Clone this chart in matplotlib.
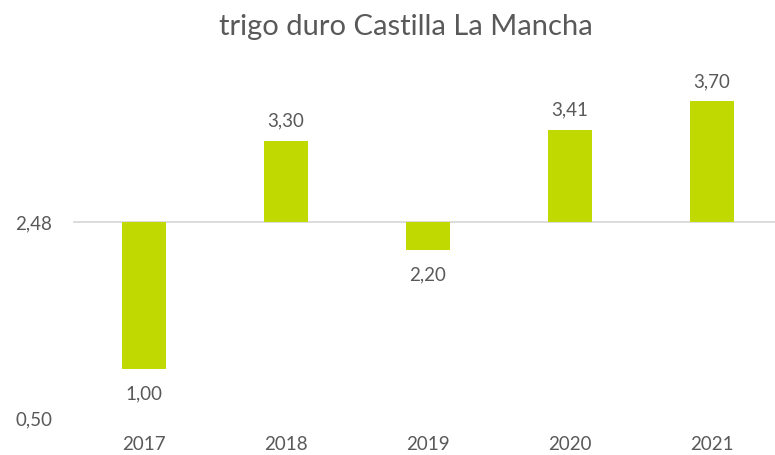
import matplotlib
matplotlib.use("Agg")
import matplotlib.pyplot as plt

categories = ["2017", "2018", "2019", "2020", "2021"]
values = [1.00, 3.30, 2.20, 3.41, 3.70]
baseline = 2.48
ytick_vals = [0.50, 2.48]
ytick_labels = ["0,50", "2,48"]
title = "trigo duro Castilla La Mancha"

plt.rcParams['font.family'] = ['Lato', 'DejaVu Sans']
txt = "#595959"
bar_color = "#C0D900"

fig = plt.figure(figsize=(7.75, 4.55), dpi=100)
ax = fig.add_axes([73/775, 1-418/455, (783-73)/775, (418-26)/455])
x = range(len(categories))
heights = [v - baseline for v in values]
ax.bar(x, heights, bottom=baseline, width=0.31, color=bar_color, zorder=2)
ax.set_xlim(-0.5, len(categories) - 0.5)
ax.set_ylim(0.50, 4.46)
ax.axhline(baseline, color="#D9D9D9", lw=1.3, zorder=1)
for s in ax.spines.values():
    s.set_visible(False)
ax.set_yticks(ytick_vals)
ax.set_yticklabels(ytick_labels)
ax.set_xticks(list(x))
ax.set_xticklabels(categories)
ax.tick_params(axis='both', length=0, labelsize=13.5, colors=txt)
ax.tick_params(axis='y', pad=15)
ax.tick_params(axis='x', pad=13)
for i, v in enumerate(values):
    lab = f"{v:.2f}".replace(".", ",")
    if v >= baseline:
        ax.annotate(lab, (i, v), xytext=(0, 8), textcoords="offset points",
                    ha="center", va="bottom", fontsize=13.5, color=txt)
    else:
        ax.annotate(lab, (i, v), xytext=(0, -12), textcoords="offset points",
                    ha="center", va="top", fontsize=13.5, color=txt)
fig.text(406/775, 1-27/455, title, ha="center", va="center", fontsize=21, color=txt)
fig.savefig("out.png", dpi=100)
